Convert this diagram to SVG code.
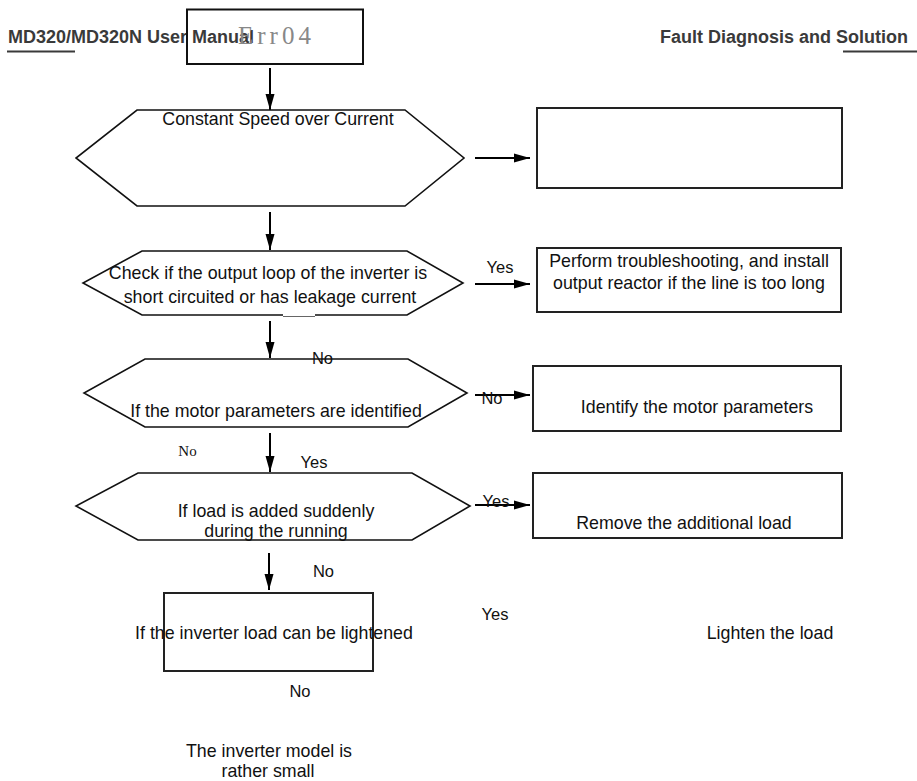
<svg xmlns="http://www.w3.org/2000/svg" width="917" height="781" viewBox="0 0 917 781">
<style>
text{font-family:"Liberation Sans",Arial,sans-serif;fill:#111}
.hdr{font-weight:bold;font-size:18px;fill:#3a3a3a}
.t{font-size:17.8px}
.lbl{font-size:16.5px}
.hex{fill:#fff;stroke:#111;stroke-width:1.6}
.box{fill:#fff;stroke:#222;stroke-width:2}
.con line{stroke:#000;stroke-width:2}
</style>
<defs>
<marker id="ah" viewBox="0 0 16 10" refX="16" refY="5" markerWidth="16" markerHeight="10" markerUnits="userSpaceOnUse" orient="auto">
<path d="M0,0.5 L16,5 L0,9.5 Z" fill="#000"/>
</marker>
</defs>
<rect width="917" height="781" fill="#fff"/>

<g id="header">
<text class="hdr" x="8" y="43">MD320/MD320N User Manual</text>
<line x1="7" y1="51.5" x2="75" y2="51.5" stroke="#3a3a3a" stroke-width="2"/>
<text class="hdr" x="908" y="43" text-anchor="end">Fault Diagnosis and Solution</text>
<line x1="843" y1="51.5" x2="917" y2="51.5" stroke="#3a3a3a" stroke-width="2"/>
</g>

<g id="err04">
<rect x="187" y="9.5" width="176" height="54.5" fill="none" stroke="#111" stroke-width="2"/>
<text x="238" y="44" style="font-family:'Liberation Serif','Times New Roman',serif;font-size:25px;fill:#888;letter-spacing:4px">Err04</text>
</g>

<g class="con" id="connectors">
<line x1="270" y1="68" x2="270" y2="110" marker-end="url(#ah)"/>
<line x1="475" y1="158" x2="530" y2="158" marker-end="url(#ah)"/>
<line x1="270" y1="212" x2="270" y2="250" marker-end="url(#ah)"/>
<line x1="475" y1="284" x2="530" y2="284" marker-end="url(#ah)"/>
<line x1="270" y1="321" x2="270" y2="358" marker-end="url(#ah)"/>
<line x1="475" y1="395" x2="530" y2="395" marker-end="url(#ah)"/>
<line x1="270" y1="433" x2="270" y2="472" marker-end="url(#ah)"/>
<line x1="475" y1="505" x2="530" y2="505" marker-end="url(#ah)"/>
<line x1="269" y1="553" x2="269" y2="590" marker-end="url(#ah)"/>
</g>

<g id="hex1">
<polygon class="hex" points="137,110 405,110 464,158 405,206 137,206 76,158"/>
<text class="t" x="278" y="125" text-anchor="middle">Constant Speed over Current</text>
</g>
<g id="box1">
<rect class="box" x="537" y="108" width="305" height="80"/>
</g>

<g id="hex2">
<polygon class="hex" points="142,251 407,251 463,283 407,315 142,315 83,283"/>
<rect x="283" y="314" width="32" height="2.5" fill="#fff"/>
<line x1="283" y1="316.5" x2="315" y2="316.5" stroke="#666" stroke-width="1"/>
<text class="t" x="268" y="279" text-anchor="middle">Check if the output loop of the inverter is</text>
<text class="t" x="270" y="303" text-anchor="middle">short circuited or has leakage current</text>
</g>
<g id="lbl-yes1"><text class="lbl" x="500" y="273" text-anchor="middle">Yes</text></g>
<g id="box2">
<rect class="box" x="537" y="248" width="304" height="64"/>
<text class="t" x="689" y="267" text-anchor="middle">Perform troubleshooting, and install</text>
<text class="t" x="689" y="289" text-anchor="middle">output reactor if the line is too long</text>
</g>

<g id="hex3">
<polygon class="hex" points="145,359 408,359 467,393 408,427 145,427 84,393"/>
<text class="t" x="276" y="417" text-anchor="middle">If the motor parameters are identified</text>
</g>
<g id="lbl-no1"><text class="lbl" x="322.5" y="364" text-anchor="middle">No</text></g>
<g id="lbl-no2"><text class="lbl" x="492" y="404" text-anchor="middle">No</text></g>
<g id="box3">
<rect class="box" x="533" y="366" width="308" height="65"/>
<text class="t" x="697" y="413" text-anchor="middle">Identify the motor parameters</text>
</g>
<g id="lbl-no3"><text x="187.5" y="456" text-anchor="middle" style="font-family:'Liberation Serif','Times New Roman',serif;font-size:15px">No</text></g>
<g id="lbl-yes2"><text class="lbl" x="314" y="468" text-anchor="middle">Yes</text></g>

<g id="hex4">
<polygon class="hex" points="138,473 412,473 470,506 412,540 138,540 76,506"/>
<text class="t" x="276" y="517" text-anchor="middle">If load is added suddenly</text>
<text class="t" x="276" y="537" text-anchor="middle">during the running</text>
</g>
<g id="lbl-yes3"><text class="lbl" x="496" y="507" text-anchor="middle">Yes</text></g>
<g id="box4">
<rect class="box" x="533" y="473" width="309" height="65"/>
<text class="t" x="684" y="529" text-anchor="middle">Remove the additional load</text>
</g>
<g id="lbl-no4"><text class="lbl" x="323.5" y="577" text-anchor="middle">No</text></g>

<g id="box5">
<rect class="box" x="164" y="593" width="209" height="78"/>
<text class="t" x="274" y="639" text-anchor="middle">If the inverter load can be lightened</text>
</g>
<g id="lbl-yes4"><text class="lbl" x="495" y="620" text-anchor="middle">Yes</text></g>
<g id="lighten"><text class="t" x="770" y="639" text-anchor="middle">Lighten the load</text></g>
<g id="lbl-no5"><text class="lbl" x="300" y="697" text-anchor="middle">No</text></g>
<g id="small">
<text class="t" x="269" y="757" text-anchor="middle">The inverter model is</text>
<text class="t" x="268" y="777" text-anchor="middle">rather small</text>
</g>
</svg>
